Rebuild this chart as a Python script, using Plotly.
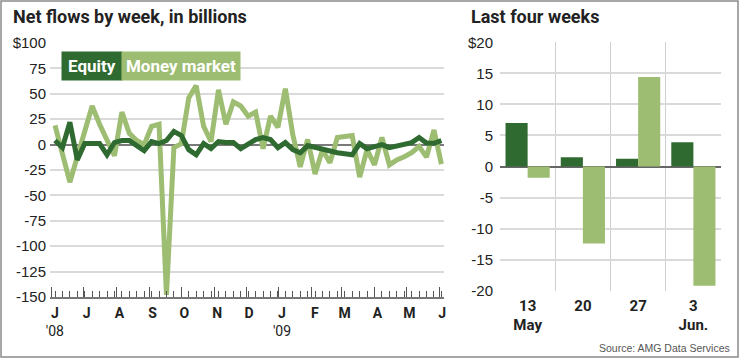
import plotly.graph_objects as go

# ---------------- data ----------------
weeks = [
    "2008-06-04", "2008-06-11", "2008-06-18", "2008-06-25",
    "2008-07-02", "2008-07-09", "2008-07-16", "2008-07-23", "2008-07-30",
    "2008-08-06", "2008-08-13", "2008-08-20", "2008-08-27",
    "2008-09-03", "2008-09-10", "2008-09-17", "2008-09-24",
    "2008-10-01", "2008-10-08", "2008-10-15", "2008-10-22", "2008-10-29",
    "2008-11-05", "2008-11-12", "2008-11-19", "2008-11-26",
    "2008-12-03", "2008-12-10", "2008-12-17", "2008-12-24", "2008-12-31",
    "2009-01-07", "2009-01-14", "2009-01-21", "2009-01-28",
    "2009-02-04", "2009-02-11", "2009-02-18", "2009-02-25",
    "2009-03-04", "2009-03-11", "2009-03-18", "2009-03-25",
    "2009-04-01", "2009-04-08", "2009-04-15", "2009-04-22", "2009-04-29",
    "2009-05-06", "2009-05-13", "2009-05-20", "2009-05-27",
    "2009-06-03",
]

equity = [
    4, -3, 22, -15,
    1, 1, 1, -10, 2,
    4, 4, -1, -6,
    3, 1, 4, 13,
    9, -5, -10, 1, -4,
    3, 2, 2, -4,
    0, 5, 7, 5, -3,
    2, -5, -8, -1,
    -3, -5, -6, -8,
    -9, -10, 1, -4,
    -2, 0, -3, -1, 1,
    2, 7.0, 1.5, 1.25,
    3.9,
]

money_market = [
    19, -10, -37, -12,
    12, 38, 20, 4, -11,
    32, 11, 4, 0,
    18, 20, -148, -3,
    1, 46, 58, 18, 3,
    54, 20, 42, 38,
    28, 32, -4, 28, 17,
    55, 10, -22, 5,
    -29, -5, -18, 7,
    8, 9, -32, -5,
    -20, 7, -20, -15, -12,
    -8, -1.8, -12.4, 14.4,
    -19.2,
]

month_ticks = [
    "2008-06-01", "2008-07-01", "2008-08-01", "2008-09-01", "2008-10-01",
    "2008-11-01", "2008-12-01", "2009-01-01", "2009-02-01", "2009-03-01",
    "2009-04-01", "2009-05-01", "2009-06-01",
]
month_labels = [
    "<b>J</b><br>'08", "<b>J</b>", "<b>A</b>", "<b>S</b>", "<b>O</b>",
    "<b>N</b>", "<b>D</b>", "<b>J</b><br>'09", "<b>F</b>", "<b>M</b>",
    "<b>A</b>", "<b>M</b>", "<b>J</b>",
]
left_y_ticks = [-150, -125, -100, -75, -50, -25, 0, 25, 50, 75, 100]
left_y_labels = ["-150", "-125", "-100", "-75", "-50", "-25", "0", "25", "50", "75", "$100"]

recent_positions = [0, 1, 2, 3]
recent_labels = ["<b>13</b><br><b>May</b>", "<b>20</b>", "<b>27</b>", "<b>3</b><br><b>Jun.</b>"]
recent_equity = [7.0, 1.5, 1.25, 3.9]
recent_money_market = [-1.8, -12.4, 14.4, -19.2]
right_y_ticks = [-20, -15, -10, -5, 0, 5, 10, 15, 20]
right_y_labels = ["-20", "-15", "-10", "-5", "0", "5", "10", "15", "$20"]

# ---------------- style ----------------
DARK = "#2f6b31"
LIGHT = "#9dbd73"
GRID = "#dadada"
COND = "Roboto, Liberation Sans, Arial, sans-serif"
REG = "Liberation Sans, Arial, sans-serif"
W, H = 740, 359

def px_x(p):
    return p / W

def px_y(p):
    return 1 - p / H

fig = go.Figure()

fig.add_trace(go.Scatter(x=weeks, y=money_market, mode="lines", name="Money market",
                         line=dict(color=LIGHT, width=5), xaxis="x", yaxis="y"))
fig.add_trace(go.Scatter(x=weeks, y=equity, mode="lines", name="Equity",
                         line=dict(color=DARK, width=5), xaxis="x", yaxis="y"))

fig.add_trace(go.Bar(x=recent_positions, y=recent_equity, name="Equity",
                     marker=dict(color=DARK, line=dict(width=0)), xaxis="x2", yaxis="y2"))
fig.add_trace(go.Bar(x=recent_positions, y=recent_money_market, name="Money market",
                     marker=dict(color=LIGHT, line=dict(width=0)), xaxis="x2", yaxis="y2"))

fig.update_layout(
    width=W, height=H,
    margin=dict(l=0, r=0, t=0, b=0, autoexpand=False),
    paper_bgcolor="white", plot_bgcolor="white",
    showlegend=False,
    barmode="group", bargap=0.2, bargroupgap=0,
    xaxis=dict(
        type="date", domain=[px_x(50), px_x(444)], anchor="y", automargin=False,
        range=["2008-05-30 07:00", "2009-06-05 11:00"],
        tickmode="array", tickvals=month_ticks, ticktext=month_labels,
        ticks="inside", ticklen=10, tickwidth=1.4, tickcolor="#555",
        minor=dict(tickmode="linear", tick0="2008-06-04", dtick=7 * 86400000,
                   ticks="inside", ticklen=6, tickwidth=1.2, tickcolor="#555", showgrid=False),
        showline=True, linecolor="#777", linewidth=1.5,
        showgrid=False, zeroline=False,
        tickfont=dict(family=COND, size=14, color="#222"),
        ticklabelshift=3, ticklabelstandoff=2,
        fixedrange=True,
    ),
    yaxis=dict(
        domain=[px_y(297), px_y(43)], anchor="x", automargin=False,
        range=[-150, 100],
        tickmode="array", tickvals=left_y_ticks, ticktext=left_y_labels,
        ticks="", showgrid=True, gridcolor=GRID, gridwidth=1.5,
        zeroline=True, zerolinecolor="#7a7a7a", zerolinewidth=1.5,
        showline=False,
        tickfont=dict(family=REG, size=15, color="#222"),
        ticklabelstandoff=3,
        fixedrange=True,
    ),
    xaxis2=dict(
        domain=[px_x(500), px_x(721)], anchor="y2", automargin=False,
        range=[-0.5, 3.5],
        tickmode="array", tickvals=recent_positions, ticktext=recent_labels,
        ticks="", showgrid=False, zeroline=False, showline=False,
        minor=dict(tickmode="array", tickvals=[0.5, 1.5, 2.5], ticks="",
                   showgrid=True, gridcolor="#cfcfcf", gridwidth=1.3),
        tickfont=dict(family=COND, size=15, color="#222"),
        ticklabelstandoff=4,
        fixedrange=True,
    ),
    yaxis2=dict(
        domain=[px_y(290.7), px_y(42.3)], anchor="x2", automargin=False,
        range=[-20, 20],
        tickmode="array", tickvals=right_y_ticks, ticktext=right_y_labels,
        ticks="", showgrid=True, gridcolor=GRID, gridwidth=1.5,
        zeroline=True, zerolinecolor="#666", zerolinewidth=1.5,
        showline=False,
        tickfont=dict(family=REG, size=15, color="#222"),
        ticklabelstandoff=6,
        fixedrange=True,
    ),
)

annotations = [
    dict(text="<b>Net flows by week, in billions</b>", x=px_x(11), y=px_y(17),
         xanchor="left", yanchor="middle", font=dict(family=COND, size=18, color="#222")),
    dict(text="<b>Last four weeks</b>", x=px_x(469), y=px_y(17),
         xanchor="left", yanchor="middle", font=dict(family=COND, size=18, color="#222")),
    dict(text="<b>Equity</b>", x=px_x(61), y=px_y(66), xanchor="left", yanchor="middle",
         width=60, height=28, bgcolor=DARK, borderpad=0,
         font=dict(family=COND, size=17, color="white")),
    dict(text="<b>Money market</b>", x=px_x(120.7), y=px_y(66), xanchor="left", yanchor="middle",
         width=118, height=28, bgcolor=LIGHT, borderpad=0,
         font=dict(family=COND, size=17, color="white")),
    dict(text="Source: AMG Data Services", x=px_x(732), y=px_y(348),
         xanchor="right", yanchor="middle", font=dict(family=REG, size=10.5, color="#555")),
]
for a in annotations:
    a.update(xref="paper", yref="paper", showarrow=False)
fig.update_layout(annotations=annotations)

fig.add_shape(type="rect", xref="paper", yref="paper",
              x0=px_x(1), x1=px_x(738), y0=px_y(357), y1=px_y(1),
              line=dict(color="#8a8a8a", width=1.5), fillcolor="rgba(0,0,0,0)", layer="above")

fig.write_html(
    "out.html",
    config={"displayModeBar": False, "staticPlot": False},
    post_script="document.body.style.margin='0';document.body.style.padding='0';document.body.style.overflow='hidden';",
)
